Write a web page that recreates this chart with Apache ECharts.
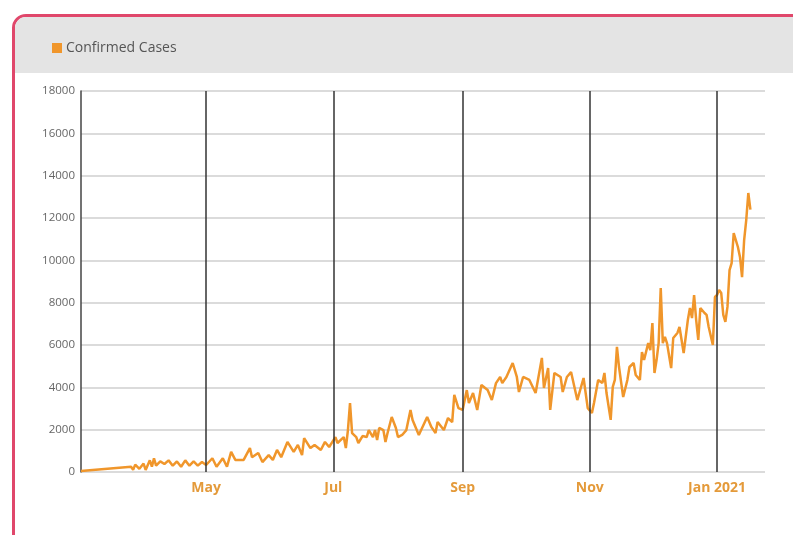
<!DOCTYPE html>
<html>
<head>
<meta charset="utf-8">
<script src="https://cdn.jsdelivr.net/npm/echarts@6/dist/echarts.min.js"></script>
<style>
  html, body {
    margin: 0;
    padding: 0;
    width: 793px;
    height: 535px;
    overflow: hidden;
    background: #fff;
  }
  .card {
    position: absolute;
    left: 12px;
    top: 14px;
    width: 820px;
    height: 560px;
    border: 3px solid #e0476b;
    border-radius: 14px;
    overflow: hidden;
    background: #fff;
  }
  .card-header {
    height: 56px;
    background: #e4e4e4;
  }
  #chart {
    position: absolute;
    left: 0;
    top: 0;
    width: 793px;
    height: 535px;
  }
</style>
</head>
<body>
<div class="card"><div class="card-header"></div></div>
<div id="chart"></div>
<script>
const seriesName = 'Confirmed Cases'

const dates = [
  '2020-03-02', '2020-03-26', '2020-03-27', '2020-03-28', '2020-03-30', '2020-04-01', '2020-04-02',
  '2020-04-04', '2020-04-05', '2020-04-06', '2020-04-07', '2020-04-09', '2020-04-11', '2020-04-13',
  '2020-04-15', '2020-04-17', '2020-04-19', '2020-04-21', '2020-04-23', '2020-04-25', '2020-04-27',
  '2020-04-29', '2020-05-01', '2020-05-04', '2020-05-06', '2020-05-09', '2020-05-11', '2020-05-13',
  '2020-05-15', '2020-05-19', '2020-05-22', '2020-05-23', '2020-05-26', '2020-05-28', '2020-05-31',
  '2020-06-02', '2020-06-04', '2020-06-06', '2020-06-09', '2020-06-12', '2020-06-14', '2020-06-16',
  '2020-06-17', '2020-06-20', '2020-06-22', '2020-06-25', '2020-06-27', '2020-06-29', '2020-07-02',
  '2020-07-03', '2020-07-06', '2020-07-07', '2020-07-08', '2020-07-09', '2020-07-10', '2020-07-12',
  '2020-07-13', '2020-07-15', '2020-07-17', '2020-07-18', '2020-07-20', '2020-07-21', '2020-07-22',
  '2020-07-23', '2020-07-25', '2020-07-26', '2020-07-27', '2020-07-29', '2020-07-31', '2020-08-01',
  '2020-08-03', '2020-08-05', '2020-08-07', '2020-08-08', '2020-08-11', '2020-08-15', '2020-08-17',
  '2020-08-19', '2020-08-20', '2020-08-23', '2020-08-25', '2020-08-27', '2020-08-28', '2020-08-30',
  '2020-09-01', '2020-09-03', '2020-09-04', '2020-09-06', '2020-09-08', '2020-09-10', '2020-09-13',
  '2020-09-15', '2020-09-17', '2020-09-19', '2020-09-20', '2020-09-22', '2020-09-25', '2020-09-27',
  '2020-09-28', '2020-09-30', '2020-10-03', '2020-10-06', '2020-10-09', '2020-10-10', '2020-10-12',
  '2020-10-13', '2020-10-15', '2020-10-18', '2020-10-19', '2020-10-21', '2020-10-23', '2020-10-26',
  '2020-10-29', '2020-10-31', '2020-11-02', '2020-11-03', '2020-11-05', '2020-11-07', '2020-11-08',
  '2020-11-09', '2020-11-11', '2020-11-12', '2020-11-13', '2020-11-14', '2020-11-15', '2020-11-17',
  '2020-11-19', '2020-11-20', '2020-11-22', '2020-11-23', '2020-11-25', '2020-11-26', '2020-11-27',
  '2020-11-29', '2020-11-30', '2020-12-01', '2020-12-02', '2020-12-03', '2020-12-04', '2020-12-05',
  '2020-12-06', '2020-12-07', '2020-12-08', '2020-12-10', '2020-12-11', '2020-12-13', '2020-12-14',
  '2020-12-16', '2020-12-18', '2020-12-19', '2020-12-20', '2020-12-21', '2020-12-22', '2020-12-23',
  '2020-12-24', '2020-12-26', '2020-12-27', '2020-12-28', '2020-12-30', '2020-12-31', '2021-01-01',
  '2021-01-02', '2021-01-03', '2021-01-04', '2021-01-05', '2021-01-06', '2021-01-07', '2021-01-08',
  '2021-01-09', '2021-01-11', '2021-01-12', '2021-01-13', '2021-01-14', '2021-01-15', '2021-01-16',
  '2021-01-17',
]

const cases = [
  50, 250, 100, 350, 150, 400, 100,
  550, 250, 650, 300, 500, 380, 550,
  300, 500, 250, 550, 300, 500, 300,
  470, 330, 650, 250, 650, 250, 950,
  570, 570, 1130, 700, 900, 470, 800,
  570, 1040, 700, 1420, 950, 1280, 800,
  1600, 1130, 1280, 1040, 1420, 1180, 1650,
  1370, 1650, 1130, 1980, 3260, 1840, 1650,
  1370, 1700, 1650, 1980, 1650, 1980, 1510,
  2080, 1980, 1420, 1840, 2600, 2080, 1650,
  1750, 1980, 2930, 2460, 1750, 2600, 2130,
  1840, 2360, 1980, 2550, 2360, 3640, 3020,
  2930, 3870, 3260, 3730, 2930, 4110, 3870,
  3400, 4200, 4490, 4200, 4490, 5150, 4490,
  3780, 4490, 4350, 3730, 5390, 3970, 4910,
  2930, 4680, 4490, 3780, 4490, 4720, 3400,
  4440, 3020, 2790, 3260, 4350, 4200, 4680,
  3730, 2460, 4020, 4350, 5910, 4960, 3540,
  4350, 4960, 5150, 4580, 4350, 5670, 5290,
  6090, 5760, 7040, 4680, 5290, 6090, 8690,
  6090, 6380, 6090, 4910, 6330, 6570, 6850,
  5620, 7180, 7750, 7270, 8360, 7180, 6240,
  7750, 7510, 7420, 6850, 6000, 8270, 8360,
  8600, 8460, 7420, 7090, 7800, 9540, 9870,
  11290, 10630, 10160, 9210, 10960, 11900, 13180,
  12400,
]

const monthTicks = ['2020-05-01', '2020-07-01', '2020-09-01', '2020-11-01', '2021-01-01']
const monthLabels = ['May', 'Jul', 'Sep', 'Nov', 'Jan 2021']
const axisStart = '2020-03-02'
const axisEnd = '2021-01-24'

const chart = echarts.init(document.getElementById('chart'))
const fontFamily = '"Open Sans", "Noto Sans", sans-serif'

chart.setOption({
  textStyle: { fontFamily: fontFamily },
  legend: {
    left: 47,
    top: 36,
    itemWidth: 10,
    itemHeight: 10,
    icon: 'rect',
    textStyle: { fontSize: 14, color: '#555', fontFamily: fontFamily, padding: [0, 0, 0, -1] },
    data: [seriesName],
  },
  grid: {
    left: 81,
    right: 28,
    top: 91,
    bottom: 63,
  },
  xAxis: {
    type: 'time',
    min: axisStart,
    max: axisEnd,
    axisLine: { show: false },
    axisTick: { show: false },
    splitLine: { show: false },
    axisLabel: { show: false },
  },
  yAxis: {
    type: 'value',
    min: 0,
    max: 18000,
    interval: 2000,
    axisLine: { show: true, lineStyle: { color: '#444', width: 1.5 } },
    axisTick: { show: false },
    axisLabel: {
      color: '#666',
      fontSize: 11.5,
      margin: 6,
      fontFamily: fontFamily,
      formatter: v => String(v),
    },
    splitLine: { lineStyle: { color: '#cfcfcf', width: 1.5 } },
  },
  series: [
    {
      name: seriesName,
      type: 'line',
      color: '#f0962b',
      showSymbol: false,
      symbol: 'none',
      lineStyle: { width: 2.5, color: '#f0962b' },
      data: dates.map((d, i) => [d, cases[i]]),
      markLine: {
        silent: true,
        symbol: 'none',
        lineStyle: { color: '#333', width: 1.5, type: 'solid' },
        label: {
          show: true,
          position: 'start',
          distance: 9,
          color: '#e49a3a',
          fontWeight: 'bold',
          fontSize: 14,
          fontFamily: fontFamily,
        },
        data: monthTicks.map((d, i) => ({
          xAxis: d,
          label: { formatter: monthLabels[i] },
        })),
      },
      z: 3,
    },
  ],
})
</script>
</body>
</html>
